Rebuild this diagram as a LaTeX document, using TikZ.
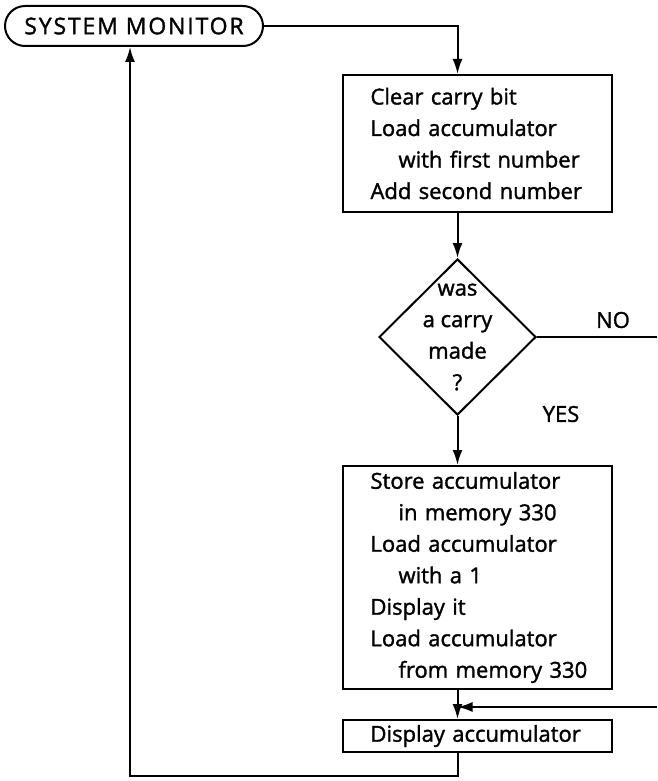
\documentclass[tikz,border=0pt]{standalone}
\usepackage{fontspec}
\setmainfont{Open Sans}
\usetikzlibrary{arrows.meta,shapes.geometric}

\begin{document}
\begin{tikzpicture}[x=1pt,y=-1pt,>={Latex[length=15pt,width=10pt]},line width=2pt,
  font=\fontsize{22}{31.5}\selectfont\addfontfeature{FakeBold=1.5},
  monitor/.style={draw,rectangle,rounded corners=20pt,minimum width=258pt,minimum height=40pt,inner sep=0pt,
    font=\fontsize{23}{28}\selectfont\addfontfeature{FakeBold=1.5,LetterSpace=8}},
  stepbox/.style={draw,rectangle,align=left,text width=214pt,inner xsep=27.5pt,inner ysep=0pt,minimum height=#1},
  decide/.style={draw,diamond,inner sep=0pt,minimum width=157pt,minimum height=156pt},
  qtext/.style={align=center,inner sep=0pt}]
  \useasboundingbox (0,0) rectangle (657,781);

  \node[monitor] (mon) at (134,26) {SYSTEM MONITOR};
  \node[stepbox=137pt] (s1) at (477.5,143.5) {Clear carry bit\\Load accumulator\\\mbox{\hspace*{28pt}with first number}\\Add second number};
  \node[decide,label={[qtext]center:{was\\a carry\\made\\?}}] (q1) at (457.5,337) {};
  \node[stepbox=223pt] (s2) at (477.5,577.5) {Store accumulator\\\mbox{\hspace*{28pt}in memory 330}\\Load accumulator\\\mbox{\hspace*{28pt}with a 1}\\Display it\\Load accumulator\\\mbox{\hspace*{28pt}from memory 330}};
  \node[stepbox=32pt] (s3) at (477.5,736) {Display accumulator};
  \node (no) at (613,320) {NO};
  \node (yes) at (561,414) {YES};

  \coordinate (noend) at (657,337);
  \coordinate (inend) at (657,707);
  \coordinate (back) at (130,776);

  \draw[->] (mon.east) -| (q1 |- s1.north);
  \draw[->] (q1 |- s1.south) -- (q1.north);
  \draw[->] (q1.south) -- (q1 |- s2.north);
  \draw (q1.east) -- (noend);
  \draw[->] (q1 |- s2.south) -- (q1 |- s3.north);
  \draw[->] (inend) -- (q1 |- inend);
  \draw[->] (q1 |- s3.south) |- (back) -- (back |- mon.south);
\end{tikzpicture}
\end{document}
